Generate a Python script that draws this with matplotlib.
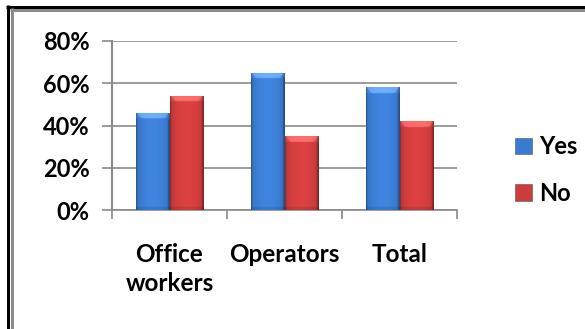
import numpy as np
import matplotlib
matplotlib.use("Agg")
import matplotlib.pyplot as plt
from matplotlib.lines import Line2D
from matplotlib.colors import to_rgb

categories = ["Office\nworkers", "Operators", "Total"]
yes_values = [0.46, 0.65, 0.58]
no_values = [0.54, 0.35, 0.42]
series_names = ["Yes", "No"]
y_ticks = [0.0, 0.2, 0.4, 0.6, 0.8]
y_tick_labels = ["0%", "20%", "40%", "60%", "80%"]

W, H = 585, 329
plt.rcParams["font.family"] = ["Lato", "DejaVu Sans"]
plt.rcParams["font.weight"] = "bold"

fig = plt.figure(figsize=(W / 100, H / 100), dpi=100)
fig.patch.set_facecolor("white")
ax = fig.add_axes([112 / W, 1 - 210 / H, (457 - 112) / W, (210 - 41) / H])

grid_col = "#8a8a8a"
blue = "#3b7bcf"
red = "#cc3c3c"
bar_w = 0.287
x = np.arange(len(categories))


def shade_bar(rect, base):
    """Paint a bevelled gradient inside a bar rectangle."""
    r, g, b = to_rgb(base)
    nx, ny = 80, 300
    u = np.linspace(0, 1, nx)
    prof = 0.74 + 0.34 * np.clip(np.sin(np.pi * u), 0, 1) ** 0.3
    prof[-5:] *= 0.78
    prof[:3] *= 0.88
    img = np.zeros((ny, nx, 3))
    for i, c in enumerate((r, g, b)):
        img[:, :, i] = np.clip(c * prof[None, :], 0, 1)
    x0, y0 = rect.get_x(), rect.get_y()
    w, h = rect.get_width(), rect.get_height()
    # lighter trapezoid bevel along the top of the bar
    bevel = 0.028
    rows = np.linspace(y0 + h, y0, ny)
    depth = (y0 + h - rows)[:, None] / bevel
    edge = np.minimum(u, 1 - u)[None, :] / 0.18
    top = (depth < 1) & (edge > depth * 0.9)
    img[top] = np.clip(img[top] + 0.17, 0, 1)
    sides = (depth < 1) & ~top
    img[sides] = np.clip(img[sides] + 0.06, 0, 1)
    # slightly darker foot
    foot = rows < (y0 + 0.015)
    img[foot] = img[foot] * 0.9
    im = ax.imshow(img, extent=[x0, x0 + w, y0, y0 + h], aspect="auto",
                   interpolation="bilinear", zorder=3)
    im.set_clip_path(rect)


bars_yes = ax.bar(x - bar_w / 2, yes_values, bar_w, color=blue, zorder=2,
                  label=series_names[0], edgecolor="none")
bars_no = ax.bar(x + bar_w / 2, no_values, bar_w, color=red, zorder=2,
                 label=series_names[1], edgecolor="none")
for rect in bars_yes:
    shade_bar(rect, blue)
for rect in bars_no:
    shade_bar(rect, red)

ax.set_xlim(-0.5, len(categories) - 0.5)
ax.set_ylim(0, 0.8)

ax.set_yticks(y_ticks)
ax.set_yticklabels(y_tick_labels, fontsize=17, fontweight="bold")
ax.set_xticks(x)
ax.set_xticklabels(categories, fontsize=17.5, fontweight="bold", linespacing=1.3)
ax.set_xticks(np.arange(-0.5, len(categories)), minor=True)
ax.tick_params(axis="x", which="major", length=0, pad=24)
ax.tick_params(axis="x", which="minor", length=6.5, width=1.2, color=grid_col)
ax.tick_params(axis="y", length=7, width=1.2, color=grid_col, pad=9)

ax.yaxis.grid(True, color=grid_col, linewidth=1.2, zorder=0)
ax.set_axisbelow(True)
for s in ("top", "right"):
    ax.spines[s].set_visible(False)
ax.spines["left"].set_color(grid_col)
ax.spines["left"].set_linewidth(1.5)
ax.spines["bottom"].set_color(grid_col)
ax.spines["bottom"].set_linewidth(1.2)

leg = ax.legend(handles=[bars_yes, bars_no], labels=series_names,
                loc="center left", bbox_to_anchor=(494 / W, 1 - 170 / H),
                bbox_transform=fig.transFigure, frameon=False,
                prop={"size": 17, "weight": "bold"},
                handlelength=0.7, handleheight=0.7, handletextpad=0.3,
                labelspacing=1.0)
for h in leg.legend_handles:
    h.set_edgecolor("#555555")
    h.set_linewidth(0.4)


def fig_line(xs, ys, color, lw):
    fig.add_artist(Line2D([v / W for v in xs], [1 - v / H for v in ys],
                          transform=fig.transFigure, color=color,
                          linewidth=lw * 0.72, solid_capstyle="butt"))


# page frame (top and left edges)
fig_line([6, W], [6.5, 6.5], "black", 3)
fig_line([7.5, 7.5], [5, H], "black", 3)
fig_line([10, W], [9.7, 9.7], "#8c8c8c", 3)
fig_line([11.5, 11.5], [8, H], "#8c8c8c", 3)

fig.savefig("out.png", dpi=100, facecolor="white")
